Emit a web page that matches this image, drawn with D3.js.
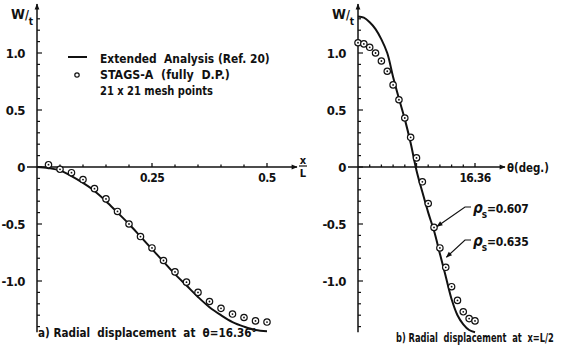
<!DOCTYPE html>
<html>
<head>
<meta charset="utf-8">
<script src="https://cdn.jsdelivr.net/npm/d3@7"></script>
<style>
  body { margin: 0; background: #fff; }
  text { font-family: "DejaVu Sans Condensed", "Liberation Sans", sans-serif; font-weight: bold; fill: #111; }
</style>
</head>
<body>
<svg id="chart" width="561" height="348"></svg>
<script>
// ----------

// panel a: x/L, radial displacement at theta = 16.36 deg
const A_LINE_X = [0, 0.025, 0.05, 0.075, 0.1, 0.125, 0.15, 0.175, 0.2, 0.225, 0.25, 0.275, 0.3, 0.325, 0.35, 0.375, 0.4, 0.425, 0.45, 0.475, 0.5];
const A_LINE_W = [0, -0.01, -0.03, -0.08, -0.14, -0.21, -0.3, -0.4, -0.5, -0.61, -0.72, -0.83, -0.94, -1.04, -1.14, -1.23, -1.3, -1.36, -1.4, -1.43, -1.44];
const A_PTS_X = [0.025, 0.05, 0.075, 0.1, 0.125, 0.15, 0.175, 0.2, 0.225, 0.25, 0.275, 0.3, 0.325, 0.35, 0.375, 0.4, 0.425, 0.45, 0.475, 0.5];
const A_PTS_W = [0.02, -0.02, -0.05, -0.11, -0.19, -0.28, -0.39, -0.5, -0.61, -0.71, -0.82, -0.92, -1.01, -1.1, -1.18, -1.24, -1.29, -1.32, -1.35, -1.36];

// panel b: theta (deg), radial displacement at x = L/2
const B_LINE_T = [0, 0.818, 1.636, 2.454, 3.272, 4.09, 4.908, 5.726, 6.544, 7.362, 8.18, 9.0, 9.82, 10.63, 11.45, 12.27, 13.09, 13.91, 14.72, 15.54, 16.36];
const B_LINE_W = [1.32, 1.31, 1.27, 1.21, 1.12, 1.0, 0.79, 0.6, 0.42, 0.21, -0.03, -0.22, -0.4, -0.56, -0.76, -0.96, -1.16, -1.3, -1.38, -1.43, -1.45];
const B_PTS_T = [0, 0.818, 1.636, 2.454, 3.272, 4.09, 4.908, 5.726, 6.544, 7.362, 8.18, 9.0, 9.82, 10.63, 11.45, 12.27, 13.09, 13.91, 14.72, 15.54, 16.36];
const B_PTS_W = [1.09, 1.08, 1.05, 1.0, 0.93, 0.84, 0.72, 0.59, 0.43, 0.26, 0.08, -0.13, -0.32, -0.53, -0.71, -0.88, -1.05, -1.17, -1.27, -1.33, -1.35];

const Y_TICK_LABELS = ["1.0", "0.5", "0", "-0.5", "-1.0"];
const Y_TICK_VALUES = [1, 0.5, 0, -0.5, -1];
const A_X_TICK_LABELS = ["0.25", "0.5"];
const A_X_TICK_VALUES = [0.25, 0.5];
const B_X_TICK_LABELS = ["16.36"];
const B_X_TICK_VALUES = [16.36];

const LEGEND_LINES = ["Extended  Analysis (Ref. 20)", "STAGS-A  (fully  D.P.)", "21 x 21 mesh points"];
const LEGEND_WIDTHS = [170, 130, 113];

// ----------

const svg = d3.select("#chart");

const yScale = d3.scaleLinear().domain([0, 1]).range([167, 53]);
const xA = d3.scaleLinear().domain([0, 0.5]).range([37, 267]);
const xB = d3.scaleLinear().domain([0, 16.36]).range([358, 475]);

svg.append("defs").append("marker")
  .attr("id", "arrow")
  .attr("viewBox", "0 0 10 10")
  .attr("refX", 9).attr("refY", 5)
  .attr("markerWidth", 9).attr("markerHeight", 6)
  .attr("markerUnits", "userSpaceOnUse")
  .attr("orient", "auto")
  .append("path").attr("d", "M0,1 L10,5 L0,9 Z").attr("fill", "#111");

// squeeze a text horizontally so it spans the given width
function fitText(x, y, size, width, s) {
  const t = svg.append("text").attr("font-size", size).attr("xml:space", "preserve").text(s);
  const k = width / t.node().getComputedTextLength();
  t.attr("transform", "translate(" + x + "," + y + ") scale(" + k + ",1)");
  return t;
}

function drawPanel(x, xEnd, xStart, tickStep, nTicks, xLabels, xLabelValues, lineX, lineW, ptsX, ptsW) {
  const g = svg.append("g");
  const x0 = x(0), y0 = yScale(0);

  // axes
  g.append("line").attr("x1", xStart).attr("y1", y0).attr("x2", xEnd).attr("y2", y0)
    .attr("stroke", "#111").attr("stroke-width", 1.5).attr("marker-end", "url(#arrow)");
  g.append("line").attr("x1", x0).attr("y1", yScale(-1.45)).attr("x2", x0).attr("y2", 4)
    .attr("stroke", "#111").attr("stroke-width", 1.5).attr("marker-end", "url(#arrow)");

  // y ticks every 0.1
  d3.range(-14, 14).forEach(function (i) {
    const major = i % 5 === 0;
    g.append("line").attr("x1", x0).attr("x2", x0 + (major ? 5 : 3))
      .attr("y1", yScale(i / 10)).attr("y2", yScale(i / 10))
      .attr("stroke", "#111").attr("stroke-width", 1.2);
  });
  Y_TICK_VALUES.forEach(function (v, i) {
    g.append("text").attr("x", x0 - 12).attr("y", yScale(v) + 5)
      .attr("text-anchor", "end").attr("font-size", 13).attr("letter-spacing", -0.5).text(Y_TICK_LABELS[i]);
  });

  // x ticks
  d3.range(1, nTicks + 1).forEach(function (i) {
    const major = i % 5 === 0;
    g.append("line").attr("x1", x(i * tickStep)).attr("x2", x(i * tickStep))
      .attr("y1", y0).attr("y2", y0 - (major ? 4 : 2.5))
      .attr("stroke", "#111").attr("stroke-width", 1.3);
  });
  xLabels.forEach(function (lab, i) {
    g.append("text").attr("x", x(xLabelValues[i])).attr("y", y0 + 15)
      .attr("text-anchor", "middle").attr("font-size", 12).attr("letter-spacing", -0.6).text(lab);
  });

  // W/t label
  const wt = g.append("text").attr("x", x0 - 26).attr("y", 19).attr("font-size", 14);
  wt.append("tspan").text("W");
  wt.append("tspan").attr("font-size", 12).text("/");
  wt.append("tspan").attr("dy", 6).attr("font-size", 10).text("t");

  // extended analysis line
  const line = d3.line()
    .x(function (d) { return x(d[0]); })
    .y(function (d) { return yScale(d[1]); })
    .curve(d3.curveCatmullRom);
  g.append("path").datum(d3.zip(lineX, lineW)).attr("d", line)
    .attr("fill", "none").attr("stroke", "#111").attr("stroke-width", 2);

  // STAGS-A points
  const pts = g.selectAll(".pt").data(d3.zip(ptsX, ptsW)).enter().append("g")
    .attr("transform", function (d) { return "translate(" + x(d[0]) + "," + yScale(d[1]) + ")"; });
  pts.append("circle").attr("r", 3.2).attr("fill", "#fff").attr("stroke", "#111").attr("stroke-width", 1.2);
  pts.append("circle").attr("r", 0.9).attr("fill", "#111");
  return g;
}

const gA = drawPanel(xA, 297, 27, 0.05, 10, A_X_TICK_LABELS, A_X_TICK_VALUES, A_LINE_X, A_LINE_W, A_PTS_X, A_PTS_W);
const gB = drawPanel(xB, 505, 348, 1.636, 10, B_X_TICK_LABELS, B_X_TICK_VALUES, B_LINE_T, B_LINE_W, B_PTS_T, B_PTS_W);

// x/L label
gA.append("text").attr("x", 303).attr("y", 164).attr("text-anchor", "middle").attr("font-size", 11).text("x");
gA.append("line").attr("x1", 299).attr("x2", 307).attr("y1", 166).attr("y2", 166).attr("stroke", "#111").attr("stroke-width", 1.2);
gA.append("text").attr("x", 303).attr("y", 177).attr("text-anchor", "middle").attr("font-size", 11).text("L");

// theta label
fitText(507, 172, 13, 42, "θ(deg.)");

// legend
svg.append("line").attr("x1", 68).attr("x2", 87).attr("y1", 57).attr("y2", 57).attr("stroke", "#111").attr("stroke-width", 2);
svg.append("circle").attr("cx", 77).attr("cy", 75).attr("r", 2.2).attr("fill", "#fff").attr("stroke", "#111").attr("stroke-width", 1.2);
LEGEND_LINES.forEach(function (s, i) {
  fitText(100, 63 + i * 16, 13, LEGEND_WIDTHS[i], s);
});

// rho_s annotations
const RHO_LABELS = ["=0.607", "=0.635"];
const RHO_POS = [[10.63, -0.53], [11.95, -0.8]];
RHO_LABELS.forEach(function (s, i) {
  const ty = 213 + i * 33;
  const ax = xB(RHO_POS[i][0]) + 3, ay = yScale(RHO_POS[i][1]) - 1;
  svg.append("path").attr("d", "M471," + (ty - 6) + " L465," + (ty - 6) + " L" + ax + "," + ay)
    .attr("fill", "none").attr("stroke", "#111").attr("stroke-width", 1.2).attr("marker-end", "url(#arrow)");
  const t = svg.append("text").attr("x", 473).attr("y", ty).attr("font-size", 15);
  t.append("tspan").attr("font-style", "italic").text("ρ");
  t.append("tspan").attr("dx", -1).attr("dy", 5).attr("font-size", 10).text("s");
  t.append("tspan").attr("dy", -5).attr("font-size", 12).attr("letter-spacing", -0.3).text(s);
});

// captions
fitText(38, 337, 13, 219, "a) Radial  displacement  at  θ=16.36°");
fitText(396, 342, 13, 158, "b) Radial  displacement  at  x=L/2");
</script>
</body>
</html>
